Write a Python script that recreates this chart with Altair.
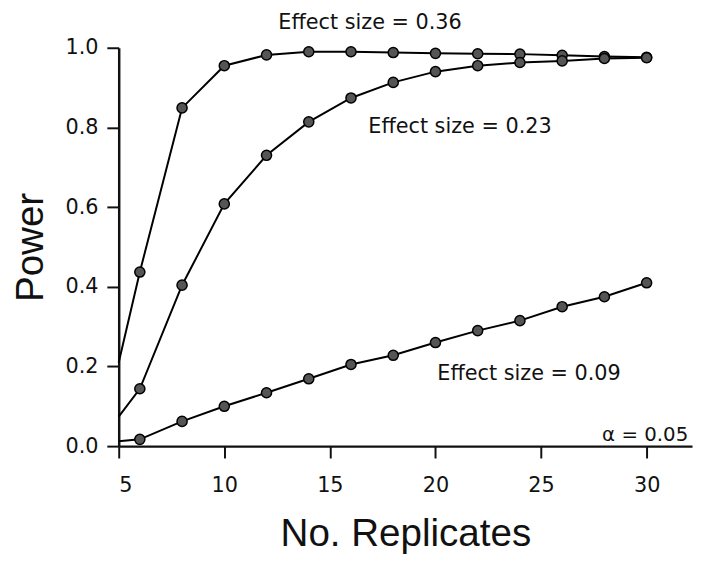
import altair as alt
import pandas as pd

replicates = [5, 6, 8, 10, 12, 14, 16, 18, 20, 22, 24, 26, 28, 30]
power_036 = [0.21, 0.437, 0.849, 0.955, 0.982, 0.99, 0.99, 0.988, 0.986, 0.985, 0.984, 0.981, 0.978, 0.976]
power_023 = [0.074, 0.144, 0.404, 0.608, 0.73, 0.814, 0.874, 0.913, 0.94, 0.955, 0.963, 0.967, 0.973, 0.975]
power_009 = [0.012, 0.017, 0.062, 0.1, 0.134, 0.169, 0.205, 0.228, 0.26, 0.29, 0.315, 0.35, 0.375, 0.41]

labels = ["Effect size = 0.36", "Effect size = 0.23", "Effect size = 0.09"]
label_x = [16.9, 21.16, 24.43]
label_y = [1.062, 0.80, 0.181]

alpha_text = ["α = 0.05"]
alpha_x = [31.97]
alpha_y = [0.027]

x_ticks = [5, 10, 15, 20, 25, 30]
y_ticks = [0.0, 0.2, 0.4, 0.6, 0.8, 1.0]

rows = []
for name, vals in [("0.36", power_036), ("0.23", power_023), ("0.09", power_009)]:
    for r, p in zip(replicates, vals):
        rows.append({"replicates": r, "power": p, "effect": name})
df = pd.DataFrame(rows)

ann = pd.DataFrame({"text": labels, "x": label_x, "y": label_y})
alpha_df = pd.DataFrame({"text": alpha_text, "x": alpha_x, "y": alpha_y})

x_scale = alt.Scale(domain=[5, 32.15], nice=False, zero=False)
y_scale = alt.Scale(domain=[0, 1], nice=False)

x_axis = alt.Axis(
    values=x_ticks, title="No. Replicates", grid=False,
    labelFont="DejaVu Sans", labelFontSize=21, labelColor="#111",
    labelPadding=17, tickSize=12, tickWidth=2, tickColor="#111",
    domainWidth=2.5, domainColor="#111",
    titleFont="Liberation Sans", titleFontSize=39, titleFontWeight="normal",
    titleColor="#111", titleBaseline="alphabetic", titleY=101,
)
y_axis = alt.Axis(
    values=y_ticks, format=".1f", title="Power", grid=False,
    labelFont="DejaVu Sans", labelFontSize=21, labelColor="#111",
    labelPadding=9, tickSize=12, tickWidth=2, tickColor="#111",
    domainWidth=2.5, domainColor="#111",
    titleFont="Liberation Sans", titleFontSize=39, titleFontWeight="normal",
    titleColor="#111", titleAngle=-90, titleBaseline="alphabetic",
    titleAlign="center", titleX=-77, titleY=201.5,
)

lines = alt.Chart(df).mark_line(color="black", strokeWidth=2).encode(
    x=alt.X("replicates:Q", scale=x_scale, axis=x_axis),
    y=alt.Y("power:Q", scale=y_scale, axis=y_axis),
    detail="effect:N",
)

points = alt.Chart(df).transform_filter(alt.datum.replicates > 5).mark_point(
    filled=True, fill="#555555", stroke="black", strokeWidth=1.5, size=105, opacity=1
).encode(
    x=alt.X("replicates:Q", scale=x_scale),
    y=alt.Y("power:Q", scale=y_scale),
)

texts = alt.Chart(ann).mark_text(
    font="DejaVu Sans", fontSize=21, color="#111", align="center", baseline="middle"
).encode(
    x=alt.X("x:Q", scale=x_scale),
    y=alt.Y("y:Q", scale=y_scale),
    text="text:N",
)

alpha = alt.Chart(alpha_df).mark_text(
    font="DejaVu Sans", fontSize=20, color="#111", align="right", baseline="middle"
).encode(
    x=alt.X("x:Q", scale=x_scale),
    y=alt.Y("y:Q", scale=y_scale),
    text="text:N",
)

chart = alt.layer(lines, points, texts, alpha).properties(
    width=580, height=403,
    autosize=alt.AutoSizeParams(type="none"),
    padding={"left": 112, "top": 37, "right": 3, "bottom": 113},
    background="white",
).configure_view(stroke=None)

chart.save("out.html", embed_options={"renderer": "svg", "actions": False})
